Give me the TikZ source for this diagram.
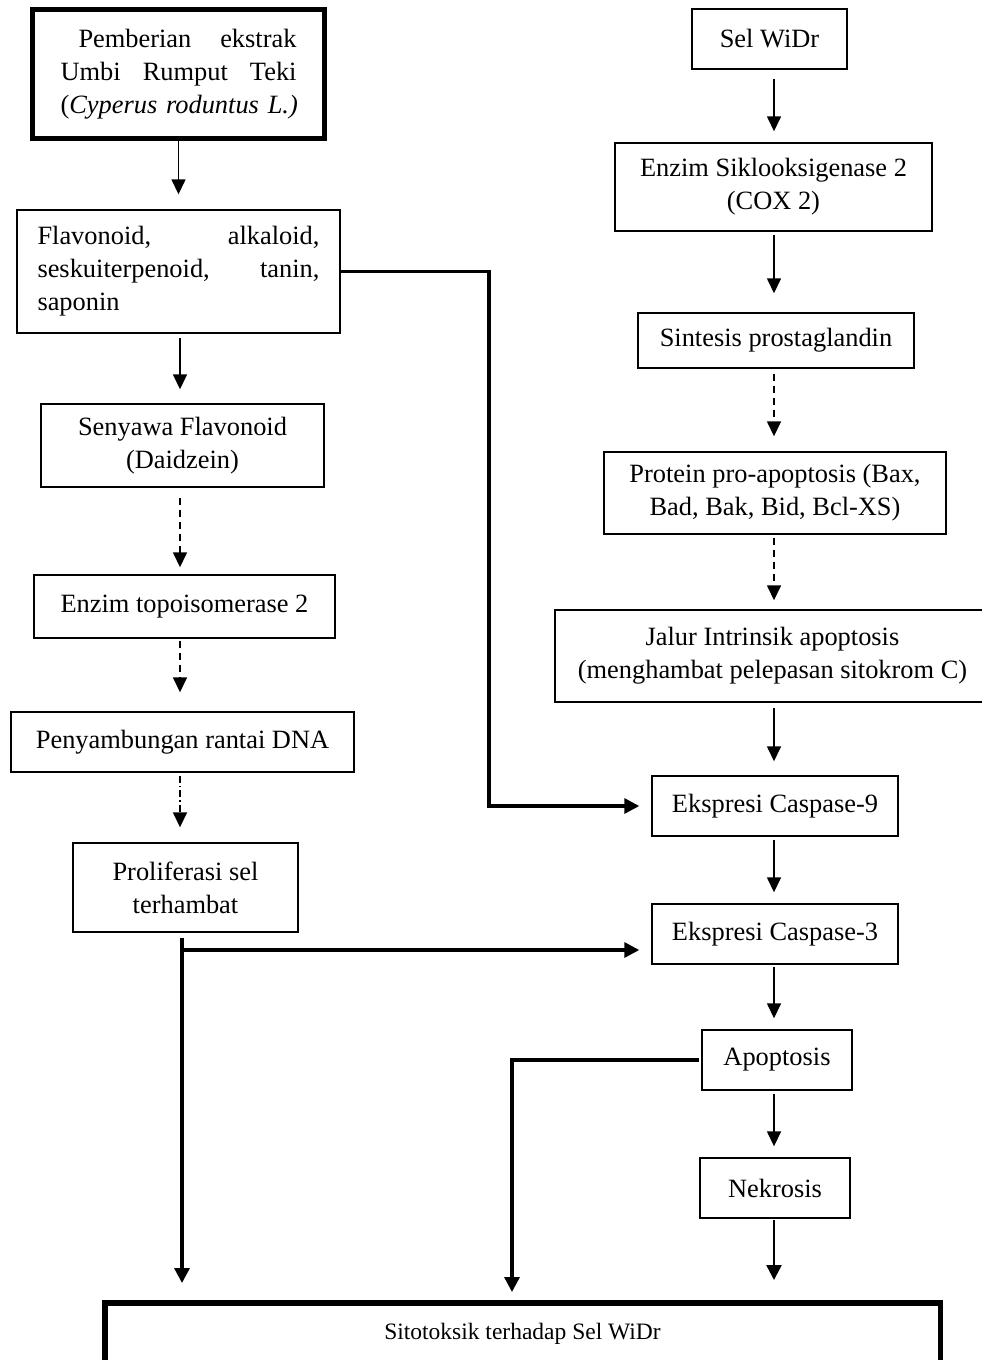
\documentclass[tikz,border=0pt]{standalone}
\usepackage{fontspec}
\setmainfont{Liberation Serif}
\usetikzlibrary{arrows.meta,calc}
\begin{document}
\begin{tikzpicture}[x=1pt,y=-1pt,
  txt/.style={font=\fontsize{26.4}{33}\selectfont},
  box/.style={draw, line width=1.4pt, inner sep=0pt, align=center, txt},
  thickbox/.style={draw, line width=5.5pt, inner sep=0pt, align=center},
  arr/.style={line width=1.5pt, -{Triangle[length=15pt,width=14pt]}},
  darr/.style={arr, dash pattern=on 7pt off 5pt},
  ddarr/.style={arr, dash pattern=on 7pt off 3pt on 1.5pt off 3pt},
  tarr/.style={line width=3.2pt, -{Triangle[length=15pt,width=15pt]}}]
\useasboundingbox (0,0) rectangle (982,1360);
\fill[white] (0,0) rectangle (982,1360);
\clip (0,0) rectangle (982,1360);

% left column
\node[thickbox, txt, text width=236pt, align=left, minimum width=292pt, minimum height=129pt] (b1) at (178.5,74)
  {\hspace*{18pt}Pemberian\hfill ekstrak\\Umbi\hfill Rumput\hfill Teki\\\mbox{(\textit{Cyperus roduntus L.)}}};
\node[box, text width=282pt, align=left, minimum width=323pt, minimum height=123pt] (b2) at (178.5,271.5)
  {Flavonoid,\hfill alkaloid,\\seskuiterpenoid,\hfill tanin,\\saponin};
\node[box, minimum width=283pt, minimum height=83pt] (b3) at (182.5,445.5) {Senyawa Flavonoid\\(Daidzein)};
\node[box, minimum width=301pt, minimum height=63pt] (b4) at (184.5,606.5) {Enzim topoisomerase 2};
\node[box, minimum width=343pt, minimum height=60pt] (b5) at (182.5,742) {Penyambungan rantai DNA};
\node[box, minimum width=225pt, minimum height=89pt] (b6) at (185.5,887.5) {Proliferasi sel\\terhambat};

% right column
\node[box, minimum width=155pt, minimum height=60pt] (r1) at (769.5,39) {Sel WiDr};
\node[box, minimum width=317pt, minimum height=88pt] (r2) at (773.5,187) {Enzim Siklooksigenase 2\\(COX 2)};
\node[box, minimum width=276pt, minimum height=55pt] (r3) at (776,340.5) {Sintesis prostaglandin};
\node[box, minimum width=342pt, minimum height=82pt] (r4) at (775,493) {Protein pro-apoptosis (Bax,\\Bad, Bak, Bid, Bcl-XS)};
\node[box, minimum width=435pt, minimum height=92pt] (r5) at (772.5,656) {Jalur Intrinsik apoptosis\\(menghambat pelepasan sitokrom C)};
\node[box, minimum width=246pt, minimum height=60pt] (r6) at (775,806) {Ekspresi Caspase-9};
\node[box, minimum width=246pt, minimum height=60pt] (r7) at (775,934) {Ekspresi Caspase-3};
\node[box, minimum width=150pt, minimum height=60pt] (r8) at (777,1060) {Apoptosis};
\node[box, minimum width=150pt, minimum height=60pt] (r9) at (775,1188) {Nekrosis};

% bottom
\node[thickbox, font=\fontsize{23.5}{28}\selectfont, minimum width=835.5pt, minimum height=61.25pt] (bot) at (522.5,1333.4) {Sitotoksik terhadap Sel WiDr};

% helper coordinates
\coordinate (cL) at (180,0);
\coordinate (cR) at (774,0);
\coordinate (k1) at (489,540);
\coordinate (cP) at (182,0);
\coordinate (j1) at (182,950);
\coordinate (k2) at (512,0);

% left arrows
\draw[arr, shorten >=15pt] (b1.south) -- (b2.north);
\draw[arr, shorten <=4pt, shorten >=14pt] (b2.south -| cL) -- (b3.north -| cL);
\draw[darr, shorten <=10pt, shorten >=7pt] (b3.south -| cL) -- (b4.north -| cL);
\draw[darr, shorten <=2pt, shorten >=19pt] (b4.south -| cL) -- (b5.north -| cL);
\draw[ddarr, shorten <=3pt, shorten >=15pt] (b5.south -| cL) -- (b6.north -| cL);

% right arrows
\draw[arr, shorten <=9pt, shorten >=11pt] (r1.south -| cR) -- (r2.north -| cR);
\draw[arr, shorten <=3pt, shorten >=19pt] (r2.south -| cR) -- (r3.north -| cR);
\draw[darr, shorten <=5pt, shorten >=15pt] (r3.south -| cR) -- (r4.north -| cR);
\draw[darr, shorten <=3pt, shorten >=9pt] (r4.south -| cR) -- (r5.north -| cR);
\draw[arr, shorten <=5pt, shorten >=14pt] (r5.south -| cR) -- (r6.north -| cR);
\draw[arr, shorten <=3pt, shorten >=11pt] (r6.south -| cR) -- (r7.north -| cR);
\draw[arr, shorten <=2pt, shorten >=11pt] (r7.south -| cR) -- (r8.north -| cR);
\draw[arr, shorten <=3pt, shorten >=11pt] (r8.south -| cR) -- (r9.north -| cR);
\draw[tarr, line width=2.4pt, shorten <=1pt, shorten >=20pt] (r9.south -| cR) -- (bot.north -| cR);

% thick connectors
\draw[tarr, shorten >=12pt] (b2.east) -| (k1) |- (r6.west);
\draw[tarr, shorten <=5pt, shorten >=17pt] (b6.south -| cP) -- (bot.north -| cP);
\draw[tarr, shorten >=12pt] (j1) -- (j1 -| r7.west);
\draw[tarr, shorten <=2pt, shorten >=8pt] (r8.west) -| (bot.north -| k2);
\end{tikzpicture}
\end{document}
